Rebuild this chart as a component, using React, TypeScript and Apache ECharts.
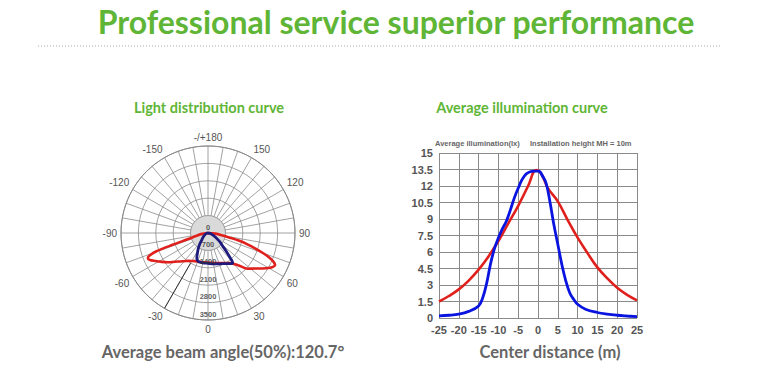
import React, { useEffect, useRef } from 'react';
import * as echarts from 'echarts';

// ---- Light distribution (polar) data: [angle in degrees, intensity in cd] ----
const polarRingTicks = [0, 700, 1400, 2100, 2800, 3500];
const polarSpokeAngles = [-180, -170, -160, -150, -140, -130, -120, -110, -100, -90, -80, -70, -60, -50, -40, -30, -20, -10, 0, 10, 20, 30, 40, 50, 60, 70, 80, 90, 100, 110, 120, 130, 140, 150, 160, 170, 180];
const grayCoreIntensity = 700;
const markerLineAngle = -30;
const markerLineRange = [1400, 3500];

const redAngles = [-90, -82, -76, -73, -71.5, -70.5, -69, -67.5, -65, -62, -58, -54, -49, -44, -40, -35, -30, -25, -19, -10, 0, 10, 20, 30, 36, 43, 48, 53, 57, 60, 62.5, 64.5, 66.5, 68.5, 70, 72, 74, 76, 78, 81, 85, 90];
const redIntensity = [0, 250, 500, 830, 1500, 2200, 2500, 2620, 2575, 2400, 2190, 2000, 1760, 1590, 1480, 1368, 1300, 1250, 1219, 1200, 1190, 1220, 1290, 1400, 1500, 1770, 2150, 2370, 2620, 2820, 2950, 2990, 2860, 2607, 2350, 1990, 1650, 1300, 900, 560, 300, 0];

const blueAngles = [-90, -75, -60, -50, -42, -37, -32, -28, -25, -22, -18, -10, 0, 10, 21, 30, 36, 39.5, 41, 43, 45.5, 48.5, 53, 62, 75, 90];
const blueIntensity = [0, 60, 150, 250, 380, 550, 740, 900, 1060, 1170, 1220, 1220, 1220, 1260, 1330, 1420, 1520, 1560, 1450, 1200, 1000, 780, 600, 320, 120, 0];

// ---- Average illumination data: distance (m) vs illuminance (lx) ----
const redDistance = [-25, -22.5, -20, -17.5, -15, -12.5, -10, -7.5, -5, -2.5, -0.5, 0, 1, 2.5, 5, 7.5, 10, 12.5, 15, 17.5, 20, 22.5, 25];
const redLux = [1.5, 2.0, 2.6, 3.4, 4.4, 5.6, 7.0, 8.6, 10.2, 12.0, 13.45, 13.4, 13.0, 11.8, 10.6, 8.9, 7.3, 5.9, 4.6, 3.6, 2.75, 2.1, 1.6];

const blueDistance = [-25, -22.5, -20, -17.5, -15, -14, -13, -12, -11, -10, -9, -8, -7, -6, -5, -4, -3, -2, -1, 0, 0.5, 1, 2, 3, 4, 5, 6, 7, 8, 9, 10, 12, 15, 17.5, 20, 22.5, 25];
const blueLux = [0.2, 0.25, 0.35, 0.6, 1.1, 1.8, 3.1, 4.9, 6.3, 7.3, 8.1, 8.8, 9.8, 10.9, 11.8, 12.6, 13.1, 13.3, 13.35, 13.35, 13.3, 13.0, 12.3, 10.6, 8.5, 6.7, 4.9, 3.4, 2.3, 1.7, 1.25, 0.8, 0.5, 0.35, 0.25, 0.18, 0.12];

const GREEN = '#5fb536';

export default function App() {
  const ref = useRef<HTMLDivElement>(null);

  useEffect(() => {
    document.body.style.margin = '0';
    if (!ref.current) return;
    const chart = echarts.init(ref.current, undefined, { renderer: 'svg' });

    const option: any = {
      animation: false,
      backgroundColor: '#ffffff',
      polar: { center: [208, 233], radius: 87 },
      angleAxis: {
        type: 'value',
        min: -180,
        max: 180,
        interval: 10,
        startAngle: 90,
        clockwise: false,
        axisLine: { show: true, lineStyle: { color: '#8a8a8a', width: 1 } },
        axisTick: { show: false },
        axisLabel: {
          margin: 4,
          color: '#555',
          fontSize: 10,
          fontFamily: 'Arial',
          formatter: (v: number) => {
            if (v === -180) return '-/+180';
            if (v === 180) return '';
            return v % 30 === 0 ? String(v) : '';
          },
        },
        splitLine: { show: true, lineStyle: { color: '#8a8a8a', width: 0.8 } },
      },
      radiusAxis: {
        type: 'value',
        min: 0,
        max: 3500,
        interval: 700,
        axisLine: { show: false },
        axisTick: { show: false },
        axisLabel: { show: false },
        splitLine: { show: true, lineStyle: { color: '#8a8a8a', width: 0.8 } },
      },
      grid: { left: 439, top: 153, width: 198, height: 165 },
      xAxis: {
        type: 'value',
        min: -25,
        max: 25,
        interval: 5,
        axisLine: { show: false },
        axisTick: { show: false },
        axisLabel: { margin: 6, color: '#555', fontSize: 11, fontWeight: 'bold', fontFamily: 'Arial' },
        splitLine: { show: true, lineStyle: { color: '#8a8a8a', width: 1 } },
      },
      yAxis: {
        type: 'value',
        min: 0,
        max: 15,
        interval: 1.5,
        axisLine: { show: false },
        axisTick: { show: false },
        axisLabel: { margin: 6, color: '#555', fontSize: 11, fontWeight: 'bold', fontFamily: 'Arial' },
        splitLine: { show: true, lineStyle: { color: '#8a8a8a', width: 1 } },
      },
      series: [
        {
          name: 'core',
          type: 'line',
          coordinateSystem: 'polar',
          data: polarSpokeAngles.map((a) => [grayCoreIntensity, a]),
          showSymbol: false,
          silent: true,
          lineStyle: { color: '#9a9a9a', width: 0.8 },
          areaStyle: { color: '#dadada', opacity: 1 },
        },
        {
          name: 'marker',
          type: 'line',
          coordinateSystem: 'polar',
          data: markerLineRange.map((r) => [r, markerLineAngle]),
          showSymbol: false,
          silent: true,
          lineStyle: { color: '#333', width: 1 },
        },
        {
          name: 'C0-180',
          type: 'line',
          coordinateSystem: 'polar',
          data: redAngles.map((a, i) => [redIntensity[i], a]),
          smooth: 0.3,
          showSymbol: false,
          lineStyle: { color: '#e0201c', width: 2.6 },
        },
        {
          name: 'C90-270',
          type: 'line',
          coordinateSystem: 'polar',
          data: blueAngles.map((a, i) => [blueIntensity[i], a]),
          smooth: 0.3,
          showSymbol: false,
          lineStyle: { color: '#1e1a7e', width: 2.8 },
        },
        {
          name: 'ringLabels',
          type: 'scatter',
          coordinateSystem: 'polar',
          data: polarRingTicks.map((v) => [v, 0]),
          symbolSize: 0,
          silent: true,
          label: {
            show: true,
            position: 'inside',
            offset: [0, -6],
            formatter: (p: any) => String(p.value[0]),
            fontSize: 7.5,
            fontWeight: 'bold',
            fontFamily: 'Arial',
            color: '#333',
            textBorderWidth: 0,
            textBorderColor: 'transparent',
          },
          z: 5,
        },
        {
          name: 'red lux',
          type: 'line',
          data: redDistance.map((d, i) => [d, redLux[i]]),
          smooth: 0.4,
          showSymbol: false,
          lineStyle: { color: '#e0201c', width: 2.6 },
        },
        {
          name: 'blue lux',
          type: 'line',
          data: blueDistance.map((d, i) => [d, blueLux[i]]),
          smooth: 0.4,
          showSymbol: false,
          lineStyle: { color: '#0a14e0', width: 2.8 },
        },
      ],
      graphic: [
        {
          type: 'text',
          x: 396,
          y: 21,
          style: { text: 'Professional service superior performance', font: 'bold 32px Lato', fill: GREEN, textAlign: 'center', textVerticalAlign: 'middle' },
        },
        {
          type: 'line',
          shape: { x1: 38, y1: 46, x2: 722, y2: 46 },
          style: { stroke: '#aaaaaa', lineWidth: 1, lineDash: [1, 2] },
        },
        {
          type: 'text',
          x: 209,
          y: 107,
          style: { text: 'Light distribution curve', font: 'bold 14.5px Lato', fill: GREEN, textAlign: 'center', textVerticalAlign: 'middle' },
        },
        {
          type: 'text',
          x: 522,
          y: 107,
          style: { text: 'Average illumination curve', font: 'bold 14.5px Lato', fill: GREEN, textAlign: 'center', textVerticalAlign: 'middle' },
        },
        {
          type: 'text',
          x: 435,
          y: 143,
          style: { text: 'Average illumination(lx)', font: 'bold 7.5px Arial', fill: '#666', textAlign: 'left', textVerticalAlign: 'middle' },
        },
        {
          type: 'text',
          x: 530,
          y: 143,
          style: { text: 'Installation height MH = 10m', font: 'bold 7.5px Arial', fill: '#666', textAlign: 'left', textVerticalAlign: 'middle' },
        },
        {
          type: 'text',
          x: 223,
          y: 352,
          style: { text: 'Average beam angle(50%):120.7°', font: 'bold 16.5px Lato', fill: '#666', textAlign: 'center', textVerticalAlign: 'middle' },
        },
        {
          type: 'text',
          x: 550,
          y: 352,
          style: { text: 'Center distance (m)', font: 'bold 16.5px Lato', fill: '#666', textAlign: 'center', textVerticalAlign: 'middle' },
        },
      ],
    };

    chart.setOption(option);
    return () => chart.dispose();
  }, []);

  return <div ref={ref} style={{ width: 780, height: 374 }} />;
}
